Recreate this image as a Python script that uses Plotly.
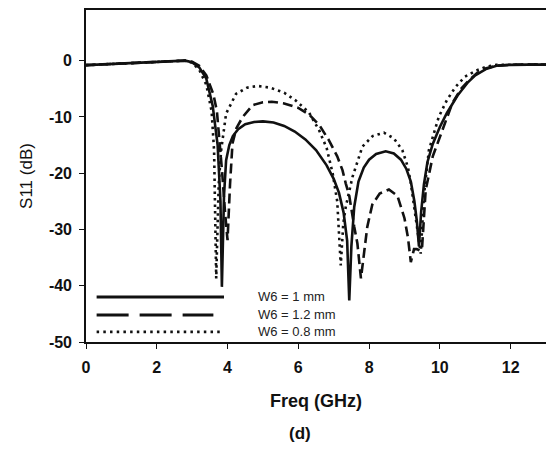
import plotly.graph_objects as go

# W6 = 1 mm (solid)
f_1mm = [0, 0.5, 1, 1.5, 2, 2.5, 2.8, 3.0, 3.2, 3.4, 3.58, 3.72, 3.8, 3.84, 3.9, 3.96, 4.05, 4.15,
         4.3, 4.5, 4.75, 5.0, 5.3, 5.6, 5.9, 6.2, 6.5, 6.8, 7.0, 7.15, 7.28, 7.38, 7.44, 7.5, 7.58,
         7.7, 7.85, 8.0, 8.2, 8.47, 8.7, 8.9, 9.05, 9.18, 9.28, 9.35, 9.41, 9.47, 9.55, 9.65, 9.8,
         10.0, 10.2, 10.5, 10.8, 11.0, 11.3, 11.6, 12.0, 12.5, 13.0]
s_1mm = [-0.8, -0.65, -0.5, -0.35, -0.2, -0.05, 0, -0.3, -1.2, -3.2, -8, -15, -25, -40.2, -24, -17.7,
         -15, -13.4, -12.2, -11.3, -10.9, -10.8, -11.0, -11.6, -12.6, -14.0, -15.9, -18.6, -21.0,
         -23.5, -27, -32, -42.6, -33, -26, -21.5, -19, -17.6, -16.6, -16.1, -16.5, -17.6, -19.2,
         -21.5, -25, -28.5, -33, -27, -22, -18, -14.8, -11.8, -9.3, -6.2, -3.8, -2.6, -1.5, -0.9,
         -0.75, -0.7, -0.7]

# W6 = 1.2 mm (dashed)
f_12mm = [0, 0.5, 1, 1.5, 2, 2.5, 2.8, 3.0, 3.2, 3.4, 3.6, 3.7, 3.77, 3.85, 3.93, 4.0, 4.07, 4.14,
          4.25, 4.43, 4.71, 5.0, 5.25, 5.6, 6.0, 6.31, 6.6, 6.87, 7.1, 7.25, 7.34, 7.44, 7.58, 7.67,
          7.77, 7.86, 7.95, 8.09, 8.3, 8.56, 8.8, 9.0, 9.1, 9.18, 9.27, 9.35, 9.45, 9.5, 9.6, 9.8,
          10.07, 10.35, 10.6, 10.82, 11.05, 11.29, 11.6, 12.0, 12.5, 13.0]
s_12mm = [-0.8, -0.65, -0.5, -0.35, -0.2, -0.05, 0, -0.2, -0.9, -2.6, -6, -9, -14, -20, -27, -31.9,
          -22, -14.7, -12, -10, -7.9, -7.4, -7.3, -7.6, -8.4, -9.6, -11.5, -14.2, -17, -19.5, -21.8,
          -24, -29.5, -32.5, -38.7, -33.5, -29.5, -25.6, -23.6, -22.9, -24, -28, -31.5, -35.8,
          -33.5, -33.5, -33.8, -33, -23, -17, -12.4, -7.6, -5, -3.5, -2.2, -1.4, -0.9, -0.75,
          -0.7, -0.7]

# W6 = 0.8 mm (dotted)
f_08mm = [0, 0.5, 1, 1.5, 2, 2.5, 2.8, 3.0, 3.2, 3.4, 3.55, 3.62, 3.68, 3.75, 3.82, 3.96, 4.24,
          4.55, 4.85, 5.2, 5.6, 5.93, 6.3, 6.59, 6.8, 6.97, 7.1, 7.2, 7.27, 7.34, 7.53, 7.81, 8.1,
          8.42, 8.7, 8.94, 9.1, 9.18, 9.3, 9.4, 9.46, 9.55, 9.69, 9.97, 10.2, 10.44, 10.7, 11.01,
          11.3, 11.6, 12.0, 12.5, 13.0]
s_08mm = [-0.8, -0.65, -0.5, -0.35, -0.2, -0.05, 0, -0.4, -1.6, -4.3, -9, -16, -38.7, -22, -15.9,
          -9.4, -5.9, -4.8, -4.5, -4.8, -5.7, -7.1, -9.2, -12.4, -15.5, -20, -25, -36.4, -29, -26,
          -20.7, -15.3, -13.4, -12.8, -13.8, -15.9, -19, -21.8, -27, -31, -34.3, -24, -15.9, -10,
          -7, -4.7, -2.9, -1.8, -1.1, -0.75, -0.7, -0.7, -0.7]

series_names = ["W6 = 1 mm", "W6 = 1.2 mm", "W6 = 0.8 mm"]
x_ticks = [0, 2, 4, 6, 8, 10, 12]
y_ticks = [-50, -40, -30, -20, -10, 0]

FONT = "Liberation Sans, Arial, sans-serif"
dashes = ["solid", "10px,5px", "2.5px,4px"]
legend_dashes = ["solid", "32px,11px", "2.5px,4.2px"]

fig = go.Figure()
for fx, sy, name, d in zip([f_1mm, f_12mm, f_08mm], [s_1mm, s_12mm, s_08mm], series_names, dashes):
    fig.add_trace(go.Scatter(x=fx, y=sy, mode="lines", name=name,
                             line=dict(color="#111111", width=2.6, dash=d),
                             showlegend=False))

# manual legend (bottom-left inside the plot)
leg_y = [-42.0, -45.2, -48.2]
leg_x_end = [3.9, 3.6, 3.85]
for yy, xe, name, d in zip(leg_y, leg_x_end, series_names, legend_dashes):
    fig.add_shape(type="line", xref="x", yref="y", x0=0.3, x1=xe, y0=yy, y1=yy,
                  line=dict(color="#111111", width=2.8, dash=d))
    fig.add_annotation(x=4.8, y=yy, xref="x", yref="y", text=name, showarrow=False,
                       xanchor="left", yanchor="middle",
                       font=dict(family=FONT, size=13, color="#222222"))

fig.add_annotation(x=(300 - 86) / 460, y=-(434 - 342) / 332, xref="paper", yref="paper",
                   text="<b>(d)</b>", showarrow=False, xanchor="center", yanchor="middle",
                   font=dict(family=FONT, size=17, color="#111111"))

fig.update_layout(
    width=546, height=455,
    margin=dict(l=86, r=0, t=10, b=113),
    paper_bgcolor="white", plot_bgcolor="white",
    font=dict(family=FONT, color="#111111"),
    xaxis=dict(range=[0, 13], tickvals=x_ticks, ticktext=[f"<b>{v}</b>" for v in x_ticks],
               showgrid=False, zeroline=False, showline=True, linecolor="#111111", linewidth=1.6,
               mirror=True, ticks="outside", ticklen=5, tickwidth=1.4, tickcolor="#111111",
               tickfont=dict(size=16, family=FONT), ticklabelstandoff=5, automargin=False,
               title=dict(text="<b>Freq (GHz)</b>", font=dict(size=18, family=FONT), standoff=19)),
    yaxis=dict(range=[-50, 9], tickvals=y_ticks, ticktext=[f"<b>{v}</b>" for v in y_ticks],
               showgrid=False, zeroline=False, showline=True, linecolor="#111111", linewidth=1.6,
               ticks="outside", ticklen=5, tickwidth=1.4, tickcolor="#111111",
               tickfont=dict(size=16, family=FONT), ticklabelstandoff=4, automargin=False,
               title=dict(text="S11 (dB)", font=dict(size=17, family=FONT), standoff=12)),
)

fig.write_html("out.html", config={"displayModeBar": False},
               post_script="document.body.style.margin='0';")
